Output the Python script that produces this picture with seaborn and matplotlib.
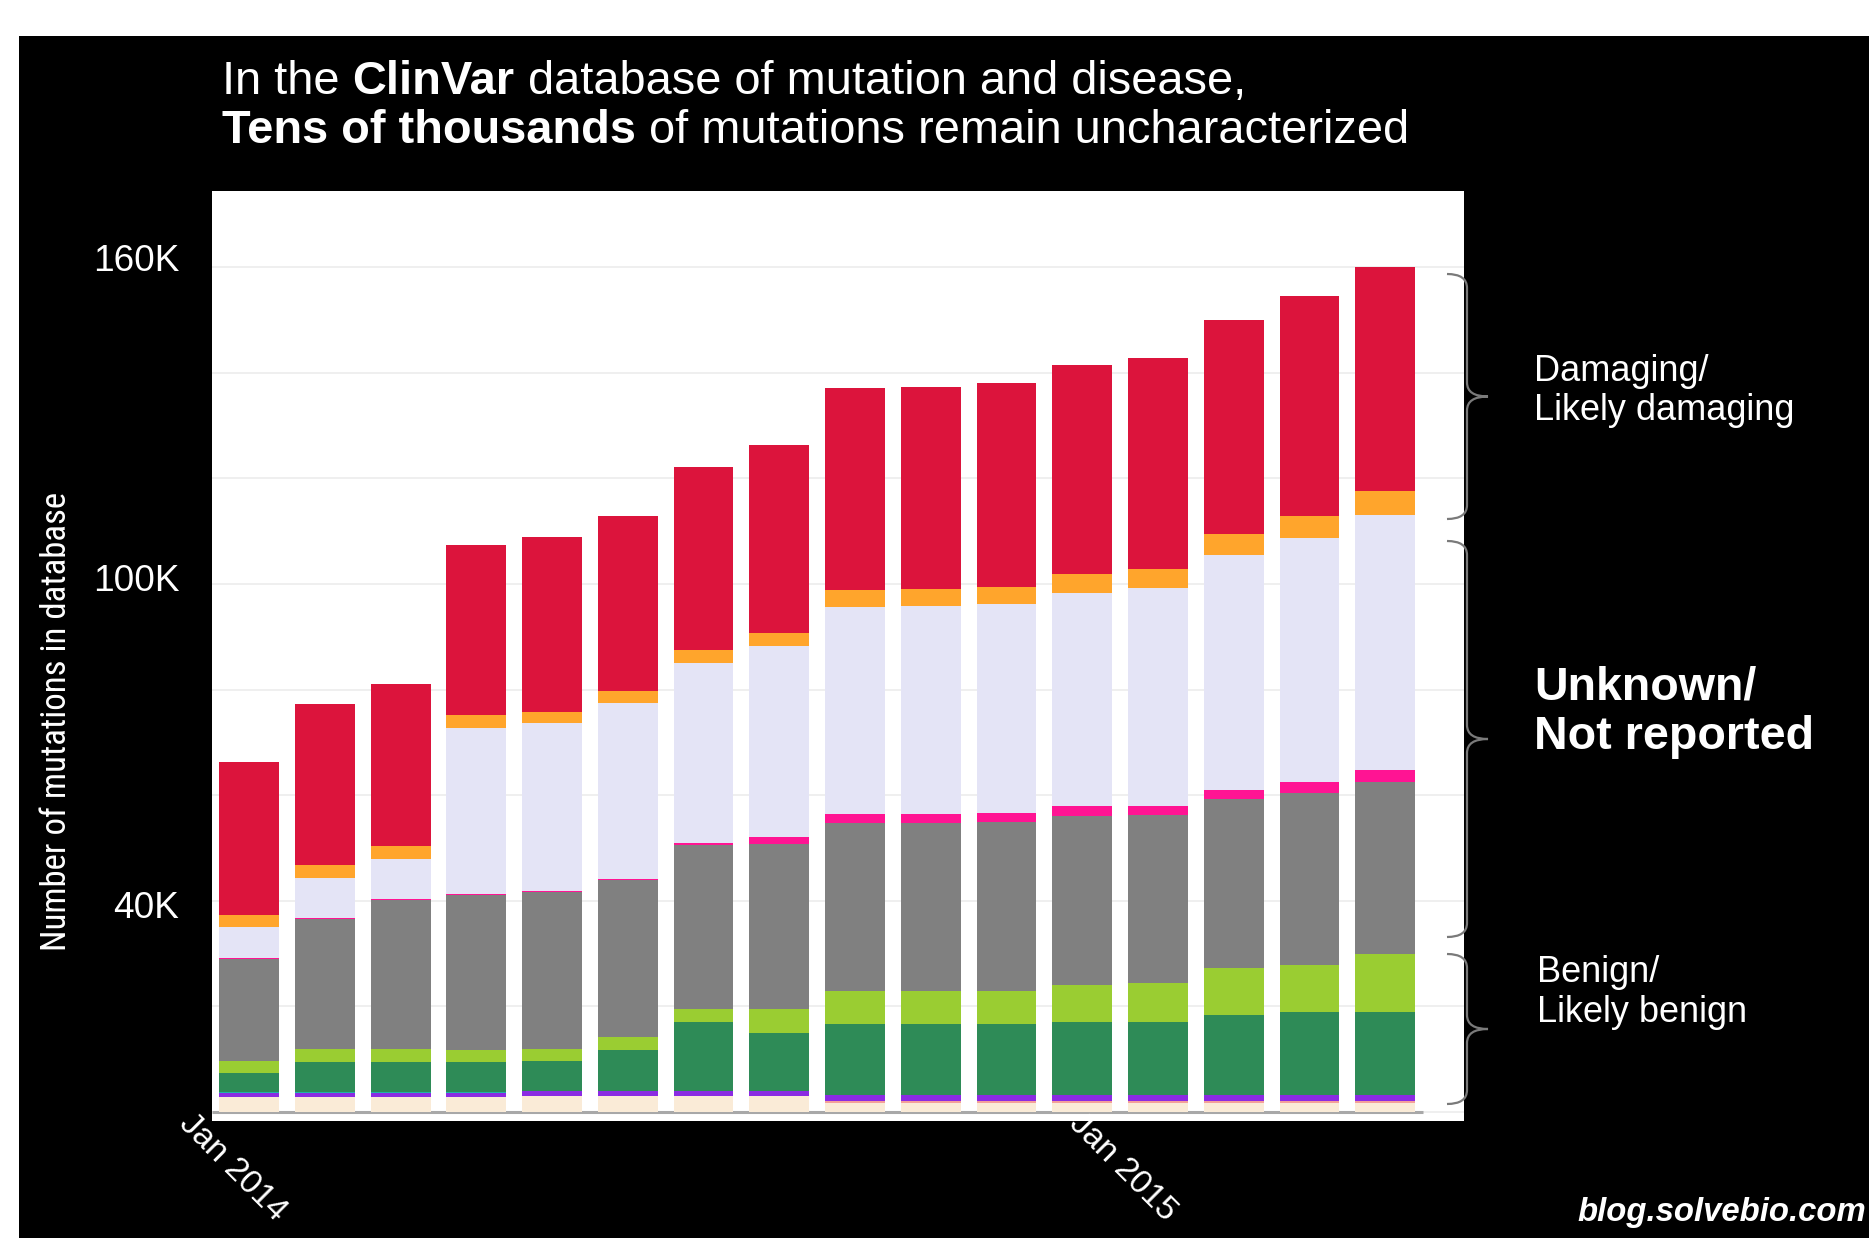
import numpy as np
import matplotlib
matplotlib.use("Agg")
import matplotlib.pyplot as plt
import seaborn as sns
from matplotlib.patches import Rectangle, PathPatch
from matplotlib.path import Path
from matplotlib import transforms, font_manager
from matplotlib.font_manager import FontProperties

# ---------------- data (thousands of mutations, one bar per ClinVar release) -------------
releases = [f"Release {i + 1}" for i in range(16)]
not_provided = [2.9, 2.9, 2.9, 2.9, 3.0, 3.0, 3.0, 3.0, 1.8, 1.8, 1.8, 1.8, 1.8, 1.8, 1.8, 1.8]
other_small = [0, 0, 0, 0, 0, 0, 0, 0, 0.2, 0.2, 0.2, 0.2, 0.2, 0.2, 0.2, 0.2]
drug_response = [0.7, 0.7, 0.7, 0.7, 0.9, 0.9, 0.9, 0.9, 1.3, 1.3, 1.3, 1.3, 1.3, 1.3, 1.3, 1.3]
protective = [0.2, 0.2, 0.2, 0.2, 0.1, 0.1, 0.1, 0.1, 0, 0, 0, 0, 0, 0, 0, 0]
benign = [3.6, 5.7, 5.7, 5.6, 5.6, 7.7, 13.0, 11.0, 13.4, 13.4, 13.4, 13.7, 13.8, 15.1, 15.6, 15.6]
likely_benign = [2.2, 2.4, 2.4, 2.3, 2.3, 2.6, 2.5, 4.6, 6.3, 6.3, 6.3, 7.1, 7.3, 8.8, 9.0, 11.1]
uncertain = [19.3, 24.6, 28.3, 29.4, 29.7, 29.6, 31.0, 31.2, 31.7, 31.7, 32.0, 32.0, 31.9, 32.0, 32.6, 32.4]
conflicting = [0.2, 0.2, 0.2, 0.2, 0.2, 0.3, 0.5, 1.3, 1.7, 1.7, 1.6, 1.8, 1.7, 1.8, 1.9, 2.3]
not_reported = [5.9, 7.7, 7.5, 31.5, 31.8, 33.2, 34.1, 36.1, 39.3, 39.5, 39.6, 40.4, 41.3, 44.4, 46.2, 48.3]
likely_pathogenic = [2.3, 2.3, 2.4, 2.3, 2.2, 2.4, 2.3, 2.5, 3.1, 3.1, 3.2, 3.6, 3.6, 4.0, 4.2, 4.5]
pathogenic = [29.0, 30.5, 30.8, 32.2, 33.0, 33.1, 34.7, 35.6, 38.3, 38.3, 38.7, 39.6, 39.8, 40.6, 41.7, 42.6]

layers = [not_provided, other_small, drug_response, protective, benign, likely_benign,
          uncertain, conflicting, not_reported, likely_pathogenic, pathogenic]
layer_colors = ["#FAEBD7", "#F4A09A", "#8A2BE2", "#20B2AA", "#2E8B57", "#9ACD32",
                "#808080", "#FF1493", "#E4E4F6", "#FFA52C", "#DC143C"]

ytick_values = [0, 20, 40, 60, 80, 100, 120, 140, 160]
ytick_labels = ["", "", "40K", "", "", "100K", "", "", "160K"]
xtick_labels = ["Jan 2014", "Jan 2015"]
xtick_pos = [-0.71, 11.04]

title_line1 = [("In the ", "normal"), ("ClinVar", "bold"), (" database of mutation and disease,", "normal")]
title_line2 = [("Tens of thousands", "bold"), (" of mutations remain uncharacterized", "normal")]
ylabel = "Number of mutations in database"
group_labels = [("Damaging/", "Likely damaging"), ("Unknown/", "Not reported"), ("Benign/", "Likely benign")]
credit = "blog.solvebio.com"

# ---------------- figure ----------------
W, H, DPI = 1869, 1238, 100
fig = plt.figure(figsize=(W / DPI, H / DPI), dpi=DPI, facecolor="black")
plt.rcParams["font.family"] = ["Liberation Sans", "DejaVu Sans"]


def fx(px):
    return px / W


def fy(py):
    return 1 - py / H


# white margins of the screenshot
fig.patches.append(Rectangle((0, fy(36)), 1, 1 - fy(36), transform=fig.transFigure,
                             facecolor="white", edgecolor="none", zorder=-5))
fig.patches.append(Rectangle((0, 0), fx(19), 1, transform=fig.transFigure,
                             facecolor="white", edgecolor="none", zorder=-5))

renderer = fig.canvas.get_renderer()


def text_width(s, size, **kw):
    t = fig.text(0, 0, s, fontsize=size, **kw)
    w = t.get_window_extent(renderer).width
    t.remove()
    return w


def fit(s, target, **kw):
    return 20 * target / text_width(s, 20, **kw)


ax = fig.add_axes([fx(212), fy(1121), fx(1464) - fx(212), fy(191) - fy(1121)])
ax.set_facecolor("white")

cum = np.cumsum(np.array(layers, dtype=float), axis=0)
xidx = np.arange(len(releases))
for k in reversed(range(len(layers))):
    sns.barplot(x=xidx, y=cum[k], color=layer_colors[k], width=0.79, saturation=1,
                errorbar=None, linewidth=0, ax=ax, zorder=2)

ax.hlines(0, -0.49, 15.5, colors="#A8A8A8", lw=2.2, zorder=1.5)
ax.set_xlim(-0.49, 16.04)
ax.set_ylim(-1.7, 174.4)
ax.set_yticks(ytick_values)
tick_size = fit("160K", 84) * 1.03
ax.set_yticklabels(ytick_labels, color="white", fontsize=tick_size)
ax.set_xticks([])
ax.set_xlabel("")
ax.set_ylabel("")
ax.tick_params(axis="y", length=0, pad=23.5)
ax.grid(axis="y", color="#ECECEC", lw=1.2)
ax.grid(axis="x", visible=False)
ax.set_axisbelow(True)
for sp in ax.spines.values():
    sp.set_visible(False)
label_shift = {"160K": 0.10, "100K": 0.06, "40K": -0.04}
for lbl in ax.get_yticklabels():
    dy = label_shift.get(lbl.get_text(), 0)
    lbl.set_transform(lbl.get_transform() + transforms.ScaledTranslation(0, dy, fig.dpi_scale_trans))

# rotated date labels
xs = fit("Jan 2014", 138)
blend = transforms.blended_transform_factory(ax.transData, ax.transAxes)
for p, lab in zip(xtick_pos, xtick_labels):
    ax.text(p, 0.014, lab, transform=blend, rotation=-45, rotation_mode="anchor",
            ha="left", va="top", color="white", fontsize=xs, clip_on=False)

# y label in a narrow / condensed sans font if one is installed
narrow_fp = None
prefs = ["Liberation Sans Narrow", "Roboto Condensed", "Open Sans Condensed",
         "Noto Sans Condensed", "DejaVu Sans Condensed", "Noto Sans", "DejaVu Sans"]
cands = []
for f in font_manager.fontManager.ttflist:
    fn = f.fname.lower()
    if f.style != "normal":
        continue
    if not (("narrow" in fn or "condensed" in fn or "narrow" in f.name.lower()
             or "condensed" in f.name.lower() or f.stretch in ("condensed", "semi-condensed"))):
        continue
    if "bold" in fn or "light" in fn or "thin" in fn or "black" in fn or "medium" in fn or "semi" in fn or "extra" in fn:
        continue
    if "mono" in fn or "serif" in fn:
        continue
    rank = len(prefs)
    for i, p in enumerate(prefs):
        if f.name.startswith(p.split(" Condensed")[0].split(" Narrow")[0]):
            rank = i
            break
    cands.append((rank, f.fname))
if cands:
    cands.sort()
    narrow_fp = FontProperties(fname=cands[0][1])
else:
    narrow_fp = FontProperties(family="DejaVu Sans", stretch="condensed")

t_tmp = fig.text(0, 0, ylabel, fontproperties=narrow_fp)
t_tmp.set_fontsize(20)
w20 = t_tmp.get_window_extent(renderer).width
t_tmp.remove()
yl_size = 20 * 465 / w20
yl_size = min(yl_size, 25)
fp = narrow_fp.copy()
fp.set_size(yl_size)
fig.text(fx(57), fy(721), ylabel, rotation=90, ha="center", va="center", color="white",
         fontproperties=fp)


# title with mixed weights
def draw_pieces(pieces, x0, y0, target):
    full_w = sum(text_width(s, 20, fontweight=w) for s, w in pieces)
    size = 20 * target / full_w
    x = x0
    for s, w in pieces:
        t = fig.text(fx(x), fy(y0), s, fontsize=size, fontweight=w, color="white",
                     ha="left", va="baseline")
        x += t.get_window_extent(renderer).width


draw_pieces(title_line1, 222, 94, 1021)
draw_pieces(title_line2, 222, 143, 1186)


# braces
def brace(top, bottom, x_end=1447, x_sp=1467, x_tip=1488, r=14):
    mid = (top + bottom) / 2
    pts = [(x_end, top), (x_sp, top), (x_sp, top + r),
           (x_sp, mid - r), (x_sp, mid), (x_tip, mid),
           (x_sp, mid), (x_sp, mid + r),
           (x_sp, bottom - r), (x_sp, bottom), (x_end, bottom)]
    codes = [Path.MOVETO, Path.CURVE3, Path.CURVE3,
             Path.LINETO, Path.CURVE3, Path.CURVE3,
             Path.CURVE3, Path.CURVE3,
             Path.LINETO, Path.CURVE3, Path.CURVE3]
    verts = [(fx(a), fy(b)) for a, b in pts]
    fig.patches.append(PathPatch(Path(verts, codes), transform=fig.transFigure,
                                 facecolor="none", edgecolor="#7A7A7A", lw=1.6, zorder=5))


brace(274, 519)
brace(541, 937)
brace(954, 1104)

# group labels
gs = (fit("Likely damaging", 261) + fit("Likely benign", 211)) / 2
fig.text(fx(1534), fy(371), group_labels[0][0], color="white", fontsize=gs, va="center", ha="left")
fig.text(fx(1534), fy(411), group_labels[0][1], color="white", fontsize=gs, va="center", ha="left")
bs = fit("Not reported", 280, fontweight="bold")
fig.text(fx(1534), fy(688), group_labels[1][0], color="white", fontsize=bs, fontweight="bold", va="center", ha="left")
fig.text(fx(1534), fy(737), group_labels[1][1], color="white", fontsize=bs, fontweight="bold", va="center", ha="left")
fig.text(fx(1537), fy(972), group_labels[2][0], color="white", fontsize=gs, va="center", ha="left")
fig.text(fx(1537), fy(1012), group_labels[2][1], color="white", fontsize=gs, va="center", ha="left")

cs = fit(credit, 289, fontweight="bold", fontstyle="italic")
fig.text(fx(1866), fy(1213), credit, color="white", fontsize=cs, fontweight="bold",
         fontstyle="italic", ha="right", va="center")

fig.savefig("out.png", dpi=DPI, facecolor="black")
